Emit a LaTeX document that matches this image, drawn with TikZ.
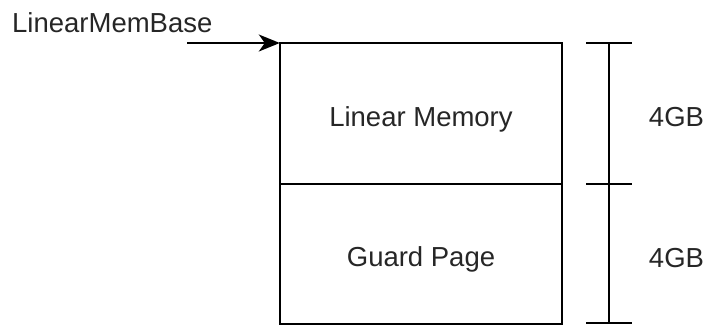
\documentclass[tikz,border=0pt]{standalone}
\usepackage{fontspec}
\setmainfont{Liberation Sans}
\usetikzlibrary{arrows.meta}
\begin{document}
\begin{tikzpicture}[x=1pt,y=-1pt,
  lbl/.style={font=\fontsize{27.5}{33}\selectfont, text=black!85, inner sep=0pt},
  membox/.style={minimum width=282pt, inner sep=0pt},
  line/.style={line width=1.8pt},
  arr/.style={line width=1.8pt, -{Stealth[length=21pt,width=17pt,inset=6pt]}}]
\useasboundingbox (0,0) rectangle (710,325);
\node[membox, minimum height=141pt] (mem) at (421,113.5) {};
\node[membox, minimum height=139pt, anchor=north] (guard) at (mem.south) {};
\draw[line] (mem.north west) rectangle (guard.south east);
\draw[line] (mem.south west) -- (mem.south east);
\node[lbl, anchor=base] (memt) at (421,126.5) {Linear Memory};
\node[lbl, anchor=base] (guardt) at (421,266.5) {Guard Page};
\node[lbl, anchor=base west] (base) at (12,32) {LinearMemBase};
\coordinate (s) at (187,43);
\draw[arr] (s) -- (s -| mem.west);
\coordinate (b1) at (609,43);
\coordinate (b2) at (609,184);
\coordinate (b3) at (609,323);
\draw[line] (b1) -- (b3);
\foreach \c in {b1,b2,b3} \draw[line] ([xshift=-23pt]\c) -- ([xshift=23pt]\c);
\node[lbl, anchor=base] (g1) at (676.5,126.5) {4GB};
\node[lbl, anchor=base] (g2) at (676.5,267.5) {4GB};
\end{tikzpicture}
\end{document}
